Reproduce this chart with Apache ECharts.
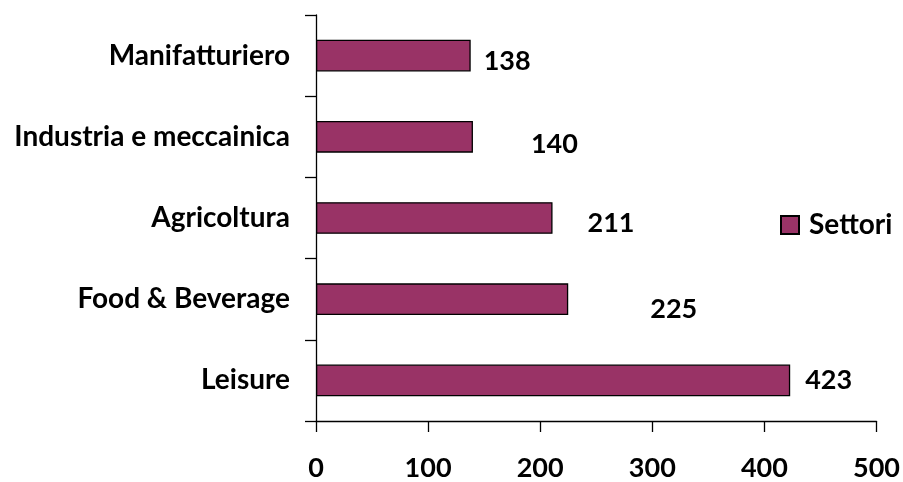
<!DOCTYPE html>
<html>
<head>
<meta charset="utf-8">
<script src="https://cdn.jsdelivr.net/npm/echarts@6/dist/echarts.min.js"></script>
<style>
  html, body { margin: 0; padding: 0; background: #fff; }
  #chart { width: 903px; height: 482px; }
</style>
</head>
<body>
<div id="chart"></div>
<script>
// Sector counts, listed top to bottom
const categories = ['Manifatturiero', 'Industria e meccainica', 'Agricoltura', 'Food & Beverage', 'Leisure'];
const values = [138, 140, 211, 225, 423];
const seriesName = 'Settori';
const xTicks = { min: 0, max: 500, interval: 100 };

// Value label nudges [dx, dy] in pixels, relative to the bar end
const labelNudges = [[13, 6], [58, 7], [35, 5], [82, 10], [15, 0]];

const FONT = 'Lato';
const WEIGHT = 'bold';
const chart = echarts.init(document.getElementById('chart'), null, { renderer: 'canvas' });

chart.setOption({
  animation: false,
  backgroundColor: '#ffffff',
  grid: { left: 316, right: 22, top: 15, bottom: 57, containLabel: false },
  legend: {
    data: [seriesName],
    left: 775,
    top: 206,
    itemWidth: 18,
    itemHeight: 18,
    icon: 'rect',
    textStyle: { fontFamily: FONT, fontWeight: WEIGHT, fontSize: 28, color: '#000', padding: [0, 0, 0, 5] }
  },
  xAxis: {
    type: 'value',
    min: xTicks.min,
    max: xTicks.max,
    interval: xTicks.interval,
    axisLine: { show: true, lineStyle: { color: '#000', width: 1.3 } },
    axisTick: { show: true, inside: false, length: 11, lineStyle: { color: '#000', width: 1.3 } },
    splitLine: { show: false },
    axisLabel: { margin: 34, fontFamily: FONT, fontWeight: WEIGHT, fontSize: 27, color: '#000' }
  },
  yAxis: {
    type: 'category',
    inverse: true,
    data: categories,
    axisLine: { show: true, lineStyle: { color: '#000', width: 1.3 } },
    axisTick: { show: true, inside: false, length: 11, alignWithLabel: false, lineStyle: { color: '#000', width: 1.3 } },
    axisLabel: { margin: 26, fontFamily: FONT, fontWeight: WEIGHT, fontSize: 28, color: '#000' }
  },
  series: [{
    name: seriesName,
    type: 'bar',
    barCategoryGap: '61%',
    itemStyle: { color: '#993366', borderColor: '#000', borderWidth: 1.3 },
    label: {
      show: true,
      position: 'right',
      distance: 0,
      fontFamily: FONT,
      fontWeight: WEIGHT,
      fontSize: 27,
      color: '#000'
    },
    data: values.map((v, i) => ({ value: v, label: { offset: labelNudges[i] } }))
  }]
});
</script>
</body>
</html>
